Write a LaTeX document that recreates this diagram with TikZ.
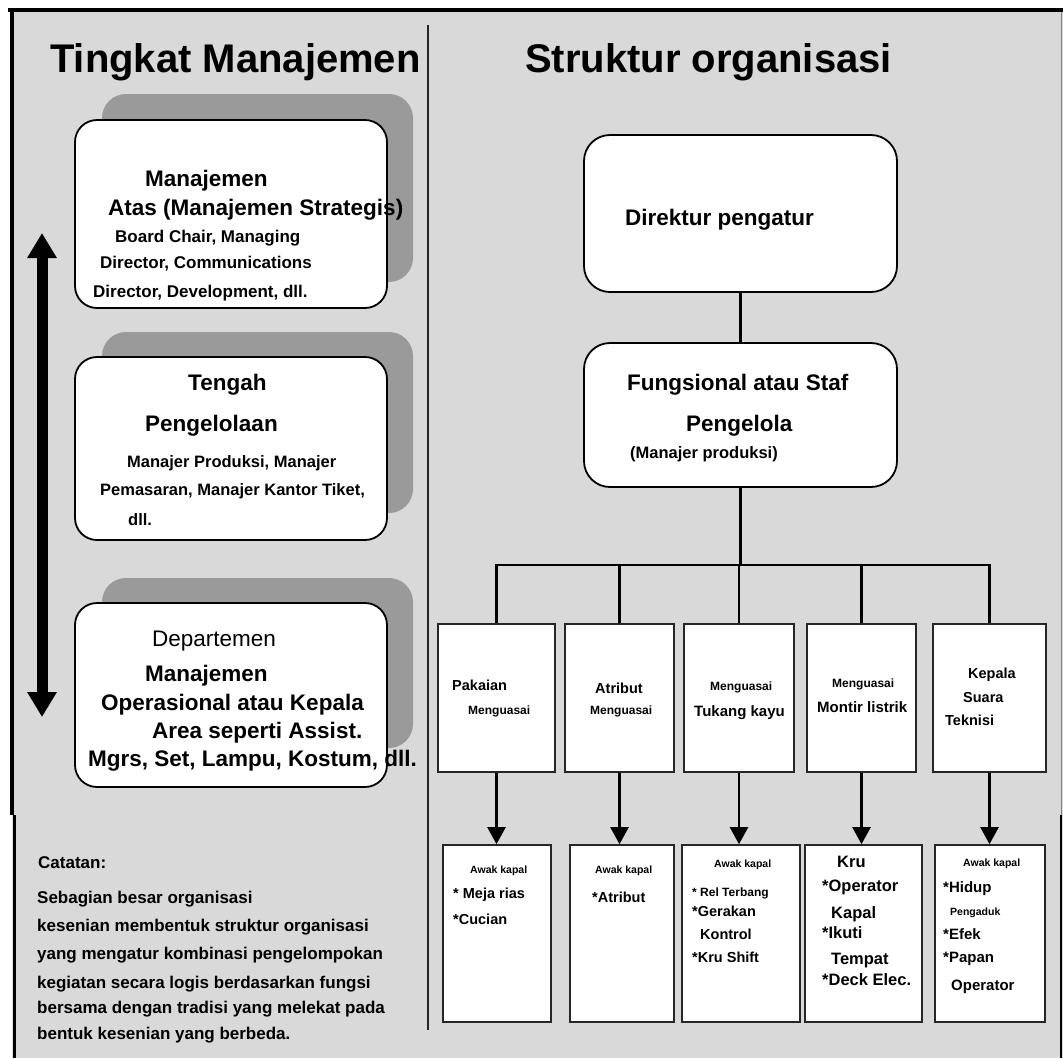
\documentclass[tikz,border=0pt]{standalone}
\usepackage{fontspec}
\setmainfont{Liberation Sans}
\usetikzlibrary{arrows.meta}
\definecolor{bggray}{HTML}{D9D9D9}
\definecolor{shgray}{HTML}{9A9A9A}
\definecolor{edge}{HTML}{262626}
\tikzset{
 lbl/.style={anchor=base west,inner sep=0pt},
 lbox/.style={draw=black,line width=1.8pt,fill=white,rounded corners=22pt,inner sep=0pt},
 shbox/.style={fill=shgray,rounded corners=24pt,inner sep=0pt},
 rbox/.style={draw=black,line width=1.8pt,fill=white,rounded corners=26pt,inner sep=0pt},
 sbox/.style={draw=edge,line width=1.6pt,fill=white,inner sep=0pt},
 conn/.style={line width=2.2pt,draw=black},
 arr/.style={conn,-{Triangle[width=18pt,length=17pt]}},
 bigarrow/.style={line width=11pt,{Triangle[width=28pt,length=25pt]}-{Triangle[width=28pt,length=25pt]}},
}
\newcommand\mytext[5]{\node[lbl,yshift={-0.36*#3pt},font=#4\fontsize{#3}{#3}\selectfont] (#1) at (#2) {#5};}
\begin{document}
\begin{tikzpicture}[x=1pt,y=-1pt]
\useasboundingbox (0,0) rectangle (1063,1058);
% background and frame
\fill[white] (0,0) rectangle (1063,1058);
\fill[bggray] (12,10) rectangle (1063,1058);
\draw[line width=4pt] (8,10) -- (1063,10);
\draw[line width=4pt] (12,8) -- (12,815);
\draw[line width=3pt] (14,815) -- (14,1058);
\draw[line width=1pt,gray] (1061,12) -- (1061,815);
\draw[line width=2pt] (1061,815) -- (1061,1058);
\draw[line width=1.2pt,edge] (428,25) -- (428,1030);
% headers
\mytext{h1}{50,58}{40}{\bfseries}{Tingkat Manajemen}
\mytext{h2}{525,58}{40}{\bfseries}{Struktur organisasi}
% left level boxes
\node[shbox,minimum width=311,minimum height=188] (s1) at (257.5,188) {};
\node[lbox,minimum width=312,minimum height=188] (b1) at (231,214) {};
\node[shbox,minimum width=311,minimum height=181] (s2) at (257.5,422.5) {};
\node[lbox,minimum width=312,minimum height=183] (b2) at (231,448.5) {};
\node[shbox,minimum width=311,minimum height=170] (s3) at (257.5,663) {};
\node[lbox,minimum width=312,minimum height=184] (b3) at (231,695) {};
% double arrow
\coordinate (atop) at (42,233);
\coordinate (abot) at (42,717);
\draw[bigarrow] (atop) -- (abot);
% box 1 text
\mytext{b1a}{145,178}{22.5}{\bfseries}{Manajemen}
\mytext{b1b}{108,207}{22.5}{\bfseries}{Atas (Manajemen Strategis)}
\mytext{b1c}{115,236}{17}{\bfseries}{Board Chair, Managing}
\mytext{b1d}{100,262}{17}{\bfseries}{Director, Communications}
\mytext{b1e}{93,291}{17}{\bfseries}{Director, Development, dll.}
% box 2 text
\mytext{b2a}{188,382}{22.5}{\bfseries}{Tengah}
\mytext{b2b}{145,423}{22.5}{\bfseries}{Pengelolaan}
\mytext{b2c}{127,462}{16.5}{\bfseries}{Manajer Produksi, Manajer}
\mytext{b2d}{100,490}{16.5}{\bfseries}{Pemasaran, Manajer Kantor Tiket,}
\mytext{b2e}{128,520}{16.5}{\bfseries}{dll.}
% box 3 text
\mytext{b3a}{152,638}{22.5}{\mdseries}{Departemen}
\mytext{b3b}{145,673}{22.5}{\bfseries}{Manajemen}
\mytext{b3c}{101,702}{22.5}{\bfseries}{Operasional atau Kepala}
\mytext{b3d}{152,730}{22.5}{\bfseries}{Area seperti Assist.}
\mytext{b3e}{88,758}{22.5}{\bfseries}{Mgrs, Set, Lampu, Kostum, dll.}
% right: hierarchy
\node[rbox,minimum width=313,minimum height=157] (r1) at (740.5,213.5) {};
\node[rbox,minimum width=313,minimum height=144] (r2) at (740.5,415) {};
\mytext{r1a}{625,217}{22.5}{\bfseries}{Direktur pengatur}
\mytext{r2a}{627,382}{22.5}{\bfseries}{Fungsional atau Staf}
\mytext{r2b}{686,423}{22.5}{\bfseries}{Pengelola}
\mytext{r2c}{630,453}{16.5}{\bfseries}{(Manajer produksi)}
\draw[conn] (r1.south) -- (r2.north);
% top row of department boxes
\node[sbox,minimum width=117,minimum height=148] (t1) at (496.5,698) {};
\node[sbox,minimum width=109,minimum height=148] (t2) at (619.5,698) {};
\node[sbox,minimum width=110,minimum height=148] (t3) at (739,698) {};
\node[sbox,minimum width=109,minimum height=148] (t4) at (861.5,698) {};
\node[sbox,minimum width=113,minimum height=148] (t5) at (989.5,698) {};
\foreach \t in {t1,t2,t3,t4,t5}{\draw[conn] (r2.south) -- ++(0,77) -| (\t.north);}
\mytext{t1a}{452,685}{14.5}{\bfseries}{Pakaian}
\mytext{t1b}{468,710}{12}{\bfseries}{Menguasai}
\mytext{t2a}{595,688}{14.5}{\bfseries}{Atribut}
\mytext{t2b}{590,710}{12}{\bfseries}{Menguasai}
\mytext{t3a}{710,686}{12}{\bfseries}{Menguasai}
\mytext{t3b}{694,711}{15}{\bfseries}{Tukang kayu}
\mytext{t4a}{832,683}{12}{\bfseries}{Menguasai}
\mytext{t4b}{817,707}{15}{\bfseries}{Montir listrik}
\mytext{t5a}{968,673}{14.5}{\bfseries}{Kepala}
\mytext{t5b}{963,697}{14.5}{\bfseries}{Suara}
\mytext{t5c}{945,720}{14.5}{\bfseries}{Teknisi}
% bottom row of crew boxes
\node[sbox,minimum width=108,minimum height=177] (u1) at (497,933.5) {};
\node[sbox,minimum width=104,minimum height=177] (u2) at (622,933.5) {};
\node[sbox,minimum width=118,minimum height=177] (u3) at (741,933.5) {};
\node[sbox,minimum width=117,minimum height=177] (u4) at (863.5,933.5) {};
\node[sbox,minimum width=110,minimum height=177] (u5) at (990,933.5) {};
\draw[arr] (t1.south) -- (t1.south |- u1.north);
\draw[arr] (t2.south) -- (t2.south |- u2.north);
\draw[arr] (t3.south) -- (t3.south |- u3.north);
\draw[arr] (t4.south) -- (t4.south |- u4.north);
\draw[arr] (t5.south) -- (t5.south |- u5.north);
\mytext{u1a}{470,870}{10.5}{\bfseries}{Awak kapal}
\mytext{u1b}{453,893}{14.5}{\bfseries}{* Meja rias}
\mytext{u1c}{453,919}{14.5}{\bfseries}{*Cucian}
\mytext{u2a}{595,870}{10.5}{\bfseries}{Awak kapal}
\mytext{u2b}{592,897}{14.5}{\bfseries}{*Atribut}
\mytext{u3a}{714,864}{10.5}{\bfseries}{Awak kapal}
\mytext{u3b}{692,892}{12}{\bfseries}{* Rel Terbang}
\mytext{u3c}{692,911}{14.5}{\bfseries}{*Gerakan}
\mytext{u3d}{700,934}{14.5}{\bfseries}{Kontrol}
\mytext{u3e}{692,957}{14.5}{\bfseries}{*Kru Shift}
\mytext{u4a}{837,862}{16.5}{\bfseries}{Kru}
\mytext{u4b}{822,886}{16.5}{\bfseries}{*Operator}
\mytext{u4c}{831,913}{16.5}{\bfseries}{Kapal}
\mytext{u4d}{822,933}{16.5}{\bfseries}{*Ikuti}
\mytext{u4e}{831,959}{16.5}{\bfseries}{Tempat}
\mytext{u4f}{822,980}{16.5}{\bfseries}{*Deck Elec.}
\mytext{u5a}{963,863}{10.5}{\bfseries}{Awak kapal}
\mytext{u5b}{943,887}{15}{\bfseries}{*Hidup}
\mytext{u5c}{950,912}{10.5}{\bfseries}{Pengaduk}
\mytext{u5d}{943,934}{15}{\bfseries}{*Efek}
\mytext{u5e}{943,957}{15}{\bfseries}{*Papan}
\mytext{u5f}{951,985}{15}{\bfseries}{Operator}
% note
\mytext{n0}{38,862}{17}{\bfseries}{Catatan:}
\mytext{n1}{37,897}{17}{\bfseries}{Sebagian besar organisasi}
\mytext{n2}{37,925}{17}{\bfseries}{kesenian membentuk struktur organisasi}
\mytext{n3}{37,953}{17}{\bfseries}{yang mengatur kombinasi pengelompokan}
\mytext{n4}{37,982}{17}{\bfseries}{kegiatan secara logis berdasarkan fungsi}
\mytext{n5}{37,1007}{17}{\bfseries}{bersama dengan tradisi yang melekat pada}
\mytext{n6}{37,1033}{17}{\bfseries}{bentuk kesenian yang berbeda.}
\end{tikzpicture}
\end{document}
